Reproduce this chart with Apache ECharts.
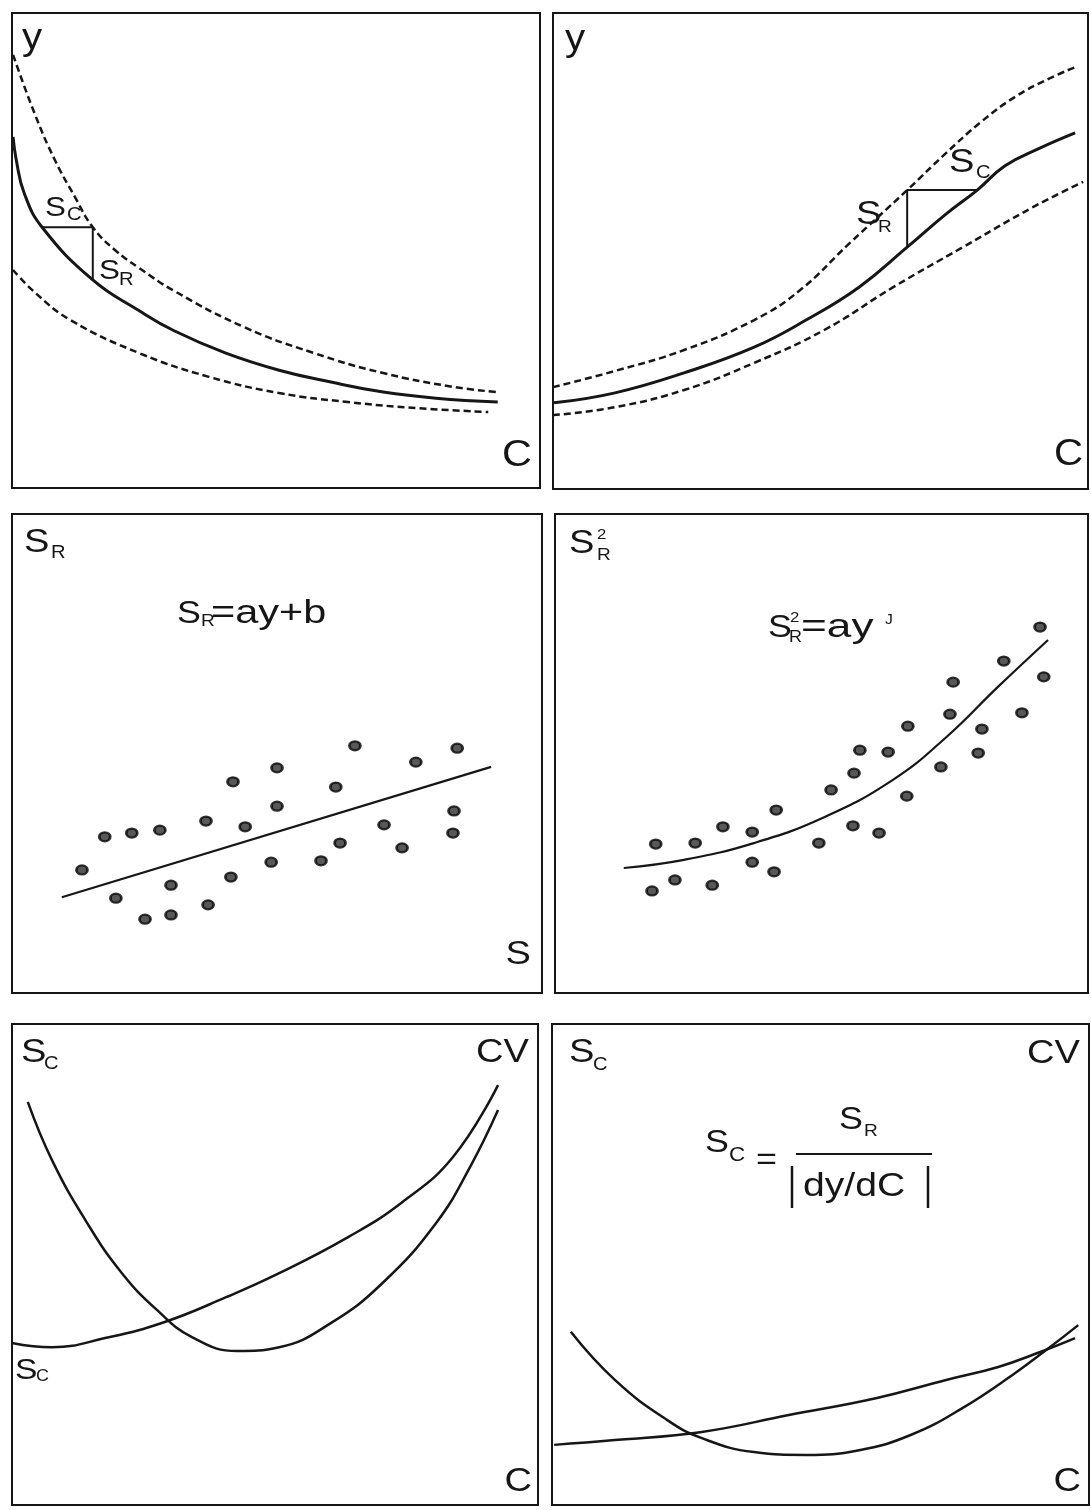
<!DOCTYPE html>
<html>
<head>
<meta charset="utf-8">
<script src="https://cdn.jsdelivr.net/npm/echarts@6/dist/echarts.min.js"></script>
<style>
html,body{margin:0;padding:0;background:#fff;}
#c{width:1091px;height:1510px;}
</style>
</head>
<body>
<div id="c"></div>
<script>
// ---- Data (all panels in relative units 0..100 on both axes) ----
// Panel 1: decreasing calibration curve with confidence band
const p1Solid = [[0.2,73.9],[0.8,69.1],[2.3,62.1],[5.7,54.9],[15.3,43.8],[24.1,37.3],[30.7,33.1],[40.5,28.4],[50.6,24.8],[60.4,22.3],[70.3,20.2],[80.3,18.9],[92.0,18.1]];
const p1Upper = [[0.2,91.2],[4.4,78.5],[8.1,69.1],[11.9,61.3],[15.3,54.9],[19.5,50.1],[24.1,46.3],[30.7,41.5],[43.9,33.9],[57.2,28.4],[70.3,24.2],[83.5,21.3],[92.0,20.2]];
const p1Lower = [[0.2,45.9],[4.4,41.1],[11.0,35.4],[24.1,28.4],[37.3,23.4],[50.6,20.0],[63.6,18.1],[76.9,16.8],[90.2,16.0]];
const p1Tri = [[5.7,54.9],[15.3,54.9],[15.3,43.8]];

// Panel 2: increasing calibration curve with confidence band
const p2Solid = [[0.2,18.1],[11.6,20.2],[24.5,24.4],[37.6,29.8],[47.3,35.5],[57.2,42.4],[66.2,50.8],[73.5,57.8],[79.3,62.8],[84.5,67.9],[91.0,71.6],[97.6,74.8]];
const p2Upper = [[0.0,21.4],[11.6,24.8],[24.5,29.2],[37.6,35.5],[46.2,41.8],[55.5,51.7],[66.2,62.8],[73.5,70.6],[80.0,77.1],[86.4,82.4],[92.9,86.3],[97.8,88.7]];
const p2Lower = [[0.0,15.5],[11.6,17.2],[24.5,20.8],[37.6,26.5],[50.7,33.4],[63.6,42.4],[76.6,50.8],[89.7,59.2],[99.1,64.5]];
const p2Tri = [[66.2,50.8],[66.2,62.8],[79.3,62.8]];

// Panel 3: S_R vs S, linear fit
const p3Points = [[13.2,25.7],[17.5,32.6],[22.6,33.4],[27.9,34.0],[36.6,35.9],[41.7,44.1],[44.0,34.7],[50.0,47.0],[50.0,39.0],[61.1,43.0],[64.7,51.6],[70.2,35.1],[76.2,48.2],[84.0,51.1],[83.4,38.0],[83.2,33.4],[73.6,30.3],[61.9,31.3],[58.3,27.6],[48.9,27.3],[41.3,24.2],[30.0,22.5],[19.6,19.8],[25.1,15.4],[30.0,16.3],[37.0,18.4]];
const p3Fit = [[9.4,20.0],[90.4,47.2]];

// Panel 4: S_R^2 vs y, power fit
const p4Points = [[18.9,31.1],[26.3,31.3],[31.5,34.7],[37.0,33.6],[41.5,38.2],[18.2,21.3],[22.5,23.6],[29.5,22.5],[37.0,27.3],[41.1,25.3],[49.5,31.3],[51.8,42.4],[55.9,34.9],[60.8,33.4],[56.1,45.9],[57.2,50.7],[62.5,50.3],[66.0,41.1],[66.2,55.7],[72.4,47.2],[74.1,58.2],[74.7,64.9],[79.4,50.1],[80.1,55.1],[84.2,69.3],[87.6,58.5],[91.0,76.4],[91.7,66.0]];
const p4Fit = [[12.9,26.1],[24.2,27.8],[37.3,31.3],[50.5,36.7],[63.4,44.5],[73.4,53.4],[83.1,63.9],[92.5,73.7]];

// Panel 5: S_C and CV profiles
const p5CV = [[3.0,83.8],[7.6,71.7],[14.3,58.6],[20.9,48.2],[27.6,40.5],[34.2,34.9],[42.8,32.0],[50.8,32.8],[60.6,37.8],[70.5,46.2],[80.6,58.6],[87.1,70.3],[92.4,82.1]];
const p5SC = [[0.0,33.7],[7.6,32.8],[17.7,34.7],[28.9,38.0],[40.7,43.2],[50.8,48.2],[63.9,55.7],[74.0,62.8],[83.8,72.3],[92.4,87.3]];

// Panel 6: S_C and CV profiles
const p6CV = [[3.5,36.0],[11.7,26.0],[21.4,17.7],[27.9,13.9],[37.6,11.0],[47.3,10.4],[57.2,11.4],[66.9,14.6],[76.5,20.2],[86.2,27.4],[92.7,32.8],[98.0,37.4]];
const p6SC = [[0.4,12.5],[11.7,13.5],[27.9,15.2],[44.1,18.7],[60.3,22.2],[73.4,26.0],[83.1,28.7],[90.9,31.8],[97.4,34.7]];

// ---- Layout ----
const INK = '#161616';
const FONT = '"Liberation Sans", Arial, Helvetica, sans-serif';
const grids = [
  {left:12, top:13, width:528, height:475},
  {left:553, top:13, width:535, height:476},
  {left:12, top:514, width:530, height:479},
  {left:555, top:514, width:533, height:479},
  {left:12, top:1024, width:526, height:481},
  {left:552, top:1024, width:537, height:481}
].map(g => Object.assign({show:true, borderColor:INK, borderWidth:2, backgroundColor:'#fff', containLabel:false}, g));

const xAxes = grids.map((g,i) => ({type:'value', gridIndex:i, min:0, max:100, show:false}));
const yAxes = grids.map((g,i) => ({type:'value', gridIndex:i, min:0, max:100, show:false}));

function curve(gi, data, dashed, width) {
  return {type:'line', xAxisIndex:gi, yAxisIndex:gi, data:data, symbol:'none', showSymbol:false,
    smooth:0.45, silent:true,
    lineStyle:{color:INK, width:width, type: dashed ? [7,4] : 'solid'}};
}
function poly(gi, data, width) {
  return {type:'line', xAxisIndex:gi, yAxisIndex:gi, data:data, symbol:'none', showSymbol:false,
    smooth:false, silent:true, lineStyle:{color:INK, width:width}};
}
function dots(gi, data) {
  return {type:'scatter', xAxisIndex:gi, yAxisIndex:gi, data:data, symbol:'circle', symbolSize:[11,9], silent:true,
    itemStyle:{color:'#2e2e2e', borderColor:'#050505', borderWidth:2.5}};
}

const series = [
  curve(0, p1Upper, true, 2.5), curve(0, p1Lower, true, 2.5), curve(0, p1Solid, false, 3), poly(0, p1Tri, 2),
  curve(1, p2Upper, true, 2.5), curve(1, p2Lower, true, 2.5), curve(1, p2Solid, false, 3), poly(1, p2Tri, 2),
  dots(2, p3Points), poly(2, p3Fit, 2.2),
  dots(3, p4Points), curve(3, p4Fit, false, 2.2),
  curve(4, p5CV, false, 2.5), curve(4, p5SC, false, 2.5),
  curve(5, p6CV, false, 2.5), curve(5, p6SC, false, 2.5)
];

const DY = 3;
function T(x, y, text, size, align, sx) {
  return {type:'text', x:x, y:y + DY, scaleX: sx || 1.12, silent:true, z:10,
    style:{text:text, font: size + 'px ' + FONT, fill:INK,
      align: align || 'left', verticalAlign:'middle', textAlign: align || 'left', textVerticalAlign:'middle'}};
}
function L(x1, y1, x2, y2, w) {
  return {type:'line', silent:true, z:10, shape:{x1:x1, y1:y1, x2:x2, y2:y2}, style:{stroke:INK, lineWidth:w || 2}};
}

const graphic = [
  // Panel 1
  T(22, 36, 'y', 36), T(532, 453, 'C', 37, 'right'),
  T(45, 205, 'S', 28), T(67, 212, 'C', 18),
  T(99, 268, 'S', 28), T(119, 277, 'R', 18),
  // Panel 2
  T(565, 37, 'y', 36), T(1083, 452, 'C', 36, 'right'),
  T(949, 160, 'S', 34), T(976, 170, 'C', 18),
  T(856, 212, 'S', 34), T(878, 224, 'R', 17),
  // Panel 3
  T(24, 540, 'S', 34), T(51, 550, 'R', 18),
  T(177, 611, 'S', 32), T(201, 618, 'R', 17), T(211, 611, '=ay+b', 34, 'left', 1.22),
  T(531, 952, 'S', 34, 'right'),
  // Panel 4
  T(569, 541, 'S', 34), T(597, 532, '2', 15), T(597, 552, 'R', 17),
  T(768, 625, 'S', 32), T(790, 615, '2', 15), T(789, 635, 'R', 16), T(801, 625, '=ay', 34, 'left', 1.3), T(885, 617, 'J', 14),
  // Panel 5
  T(21, 1050, 'S', 34), T(44, 1061, 'C', 18), T(529, 1050, 'CV', 34, 'right'),
  T(15, 1368, 'S', 30), T(36, 1374, 'C', 16),
  T(532, 1479, 'C', 34, 'right'),
  // Panel 6
  T(569, 1050, 'S', 34), T(593, 1062, 'C', 18), T(1080, 1051, 'CV', 34, 'right'),
  T(705, 1140, 'S', 32), T(729, 1152, 'C', 20), T(756, 1157, '=', 32),
  L(796, 1154, 932, 1154, 2),
  T(839, 1117, 'S', 32), T(864, 1128, 'R', 17),
  L(792, 1166, 792, 1208, 2.5), L(928, 1166, 928, 1208, 2.5),
  T(803, 1184, 'dy/dC', 34, 'left', 1.15),
  T(1081, 1479, 'C', 34, 'right')
];

const chart = echarts.init(document.getElementById('c'), null, {renderer:'canvas'});
chart.setOption({
  animation:false,
  backgroundColor:'#fff',
  grid:grids, xAxis:xAxes, yAxis:yAxes,
  series:series,
  graphic:graphic
});
</script>
</body>
</html>
